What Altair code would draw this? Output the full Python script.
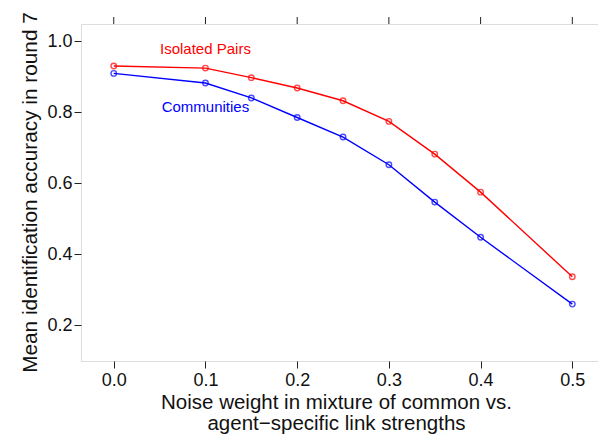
import altair as alt
import pandas as pd

noise = [0.0, 0.1, 0.15, 0.2, 0.25, 0.3, 0.35, 0.4, 0.5]
pairs = [0.930, 0.924, 0.897, 0.868, 0.832, 0.774, 0.682, 0.575, 0.337]
communities = [0.909, 0.882, 0.840, 0.785, 0.730, 0.652, 0.547, 0.448, 0.260]
series_names = ["Isolated Pairs", "Communities"]
series_colors = ["#FF0000", "#0000FF"]
label_x = [0.1, 0.1]
label_y = [0.977, 0.814]
x_ticks = [0.0, 0.1, 0.2, 0.3, 0.4, 0.5]
y_ticks = [0.2, 0.4, 0.6, 0.8, 1.0]

rows = []
for n, a, b in zip(noise, pairs, communities):
    rows.append({"noise": n, "acc": a, "series": series_names[0]})
    rows.append({"noise": n, "acc": b, "series": series_names[1]})
df = pd.DataFrame(rows)
labels = pd.DataFrame({"noise": label_x, "acc": label_y, "series": series_names})
ticks_df = pd.DataFrame({"noise": x_ticks})

FONT = "Liberation Sans"
xscale = alt.Scale(domain=[-0.0357, 0.528], nice=False, zero=False)
yscale = alt.Scale(domain=[0.1, 1.048], nice=False, zero=False)
color = alt.Color("series:N", scale=alt.Scale(domain=series_names, range=series_colors), legend=None)

xaxis = alt.Axis(values=x_ticks, format=".1f", grid=False, domain=False, tickSize=7,
                 tickColor="#222", labelFontSize=18, labelFont=FONT, labelColor="#111",
                 labelPadding=3, title=["Noise weight in mixture of common vs.", "agent\u2212specific link strengths"],
                 titleFontSize=20.5, titleFont=FONT, titleFontWeight="normal", titleColor="#111",
                 titleX=255, titleY=47, titleBaseline="alphabetic", titleAlign="center",
                 titleLineHeight=21)
yaxis = alt.Axis(values=y_ticks, format=".1f", grid=False, domain=False, tickSize=7,
                 tickColor="#222", labelFontSize=18, labelFont=FONT, labelColor="#111",
                 labelPadding=2, title="Mean identification accuracy in round 7",
                 titleFontSize=20.8, titleFont=FONT, titleFontWeight="normal", titleColor="#111",
                 titleX=-45, titleY=168, titleAngle=-90, titleBaseline="alphabetic", titleAlign="center")

base = alt.Chart(df)
lines = base.mark_line(strokeWidth=1.4).encode(
    x=alt.X("noise:Q", scale=xscale, axis=xaxis),
    y=alt.Y("acc:Q", scale=yscale, axis=yaxis),
    color=color,
    detail="series:N",
)
points = base.mark_point(shape="circle", filled=False, size=30, strokeWidth=1.4).encode(
    x=alt.X("noise:Q", scale=xscale),
    y=alt.Y("acc:Q", scale=yscale),
    color=color,
)
top_ticks = alt.Chart(ticks_df).mark_rule(color="#222", strokeWidth=1).encode(
    x=alt.X("noise:Q", scale=xscale),
    y=alt.value(-7),
    y2=alt.value(0),
)
text = alt.Chart(labels).mark_text(font=FONT, fontSize=15, baseline="middle", align="center").encode(
    x=alt.X("noise:Q", scale=xscale),
    y=alt.Y("acc:Q", scale=yscale),
    text="series:N",
    color=color,
)

chart = alt.layer(lines, points, text, top_ticks).properties(
    width=517, height=337,
    autosize=alt.AutoSizeParams(type="none"),
    padding={"left": 73, "top": 16, "right": 0, "bottom": 74},
).configure_view(stroke="#222", strokeWidth=1.2).configure(background="white")

chart.save("out.html", embed_options={"renderer": "svg", "actions": False})
